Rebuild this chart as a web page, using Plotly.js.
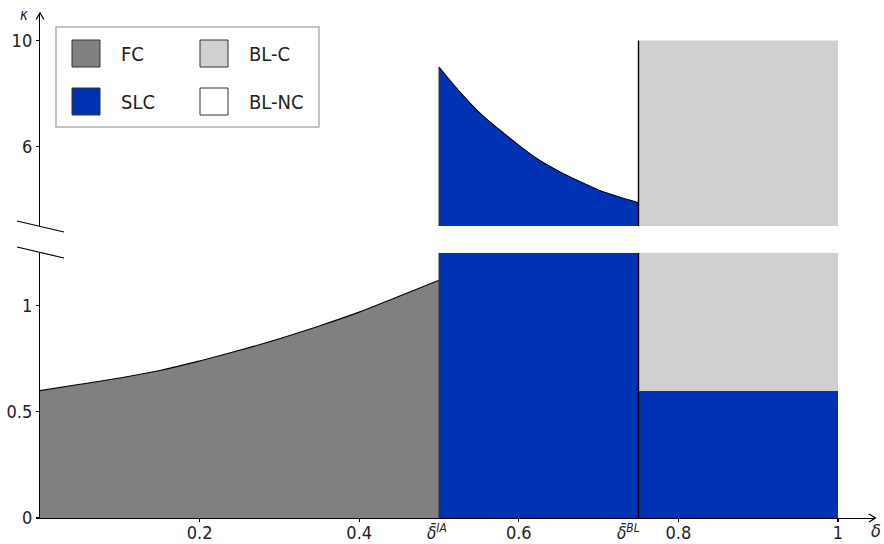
<!DOCTYPE html>
<html>
<head>
<meta charset="utf-8">
<script src="https://cdn.plot.ly/plotly-3.0.1.min.js"></script>
<style>html,body{margin:0;padding:0;background:#fff;}#chart{width:884px;height:544px;}</style>
</head>
<body>
<div id="chart"></div>
<script>
// ---- data ----
const deltaFC  = [0, 0.05, 0.1, 0.15, 0.2, 0.25, 0.3, 0.35, 0.4, 0.45, 0.5];
const kappaFC  = [0.60, 0.63, 0.66, 0.695, 0.74, 0.79, 0.845, 0.905, 0.97, 1.045, 1.12];
const deltaSLC = [0.5, 0.525, 0.55, 0.575, 0.6, 0.625, 0.65, 0.675, 0.7, 0.725, 0.75];
const kappaSLC = [9.0, 8.1, 7.3, 6.65, 6.05, 5.5, 5.07, 4.7, 4.36, 4.1, 3.88];
const deltaIA = 0.5;
const deltaBL = 0.75;
const deltaMax = 1;
const kappaSLCinBL = 0.6;   // SLC / BL-C boundary for delta > deltaBL
const kappaBLCtop = 10;     // top of BL-C region
const lowerTop = 1.25;      // axis break: top of lower panel
const upperBottom = 3;      // axis break: bottom of upper panel
const upperTop = 11;
const xTickVals = [0.2, 0.4, 0.6, 0.8, 1];
const xTickText = ['0.2', '0.4', '0.6', '0.8', '1'];
const yLowTickVals = [0, 0.5, 1];
const yLowTickText = ['0', '0.5', '1'];
const yUpTickVals = [6, 10];
const yUpTickText = ['6', '10'];
const legendNames = ['FC', 'SLC', 'BL-C', 'BL-NC'];

// ---- styles ----
const C_FC = '#808080', C_SLC = '#0032B4', C_BLC = '#D0D0D0', C_BLNC = '#FFFFFF';
const FONT = '"DejaVu Sans Condensed", "DejaVu Sans", sans-serif';
const TXT = '#222222';
const xMax = 835 / 798;

// geometry helpers (plot area: left 40, right 875, top 14, bottom 518)
const PL = 40, PR = 875, PT = 14, PB = 518;
const xp = px => (px - PL) / (PR - PL);
const yp = py => (PB - py) / (PB - PT);
const P = (px, py) => xp(px).toFixed(5) + ',' + yp(py).toFixed(5);

function rect(xs, ys, color, yaxis, name) {
  return {x: xs, y: ys, type: 'scatter', mode: 'lines', fill: 'toself', fillcolor: color,
          line: {width: 0, color: color}, yaxis: yaxis, name: name, hoverinfo: 'skip'};
}
function edge(xs, ys, yaxis, w, c) {
  return {x: xs, y: ys, type: 'scatter', mode: 'lines', line: {width: w, color: c},
          yaxis: yaxis, hoverinfo: 'skip'};
}

const traces = [
  // lower panel
  rect([deltaIA, deltaBL, deltaBL, deltaIA], [0, 0, lowerTop, lowerTop], C_SLC, 'y', 'SLC'),
  rect([deltaBL, deltaMax, deltaMax, deltaBL], [0, 0, kappaSLCinBL, kappaSLCinBL], C_SLC, 'y', 'SLC'),
  rect([deltaBL, deltaMax, deltaMax, deltaBL], [kappaSLCinBL, kappaSLCinBL, lowerTop, lowerTop], C_BLC, 'y', 'BL-C'),
  {x: deltaFC, y: kappaFC, type: 'scatter', mode: 'lines', fill: 'tozeroy', fillcolor: C_FC,
   line: {width: 1.1, color: '#000', shape: 'spline', smoothing: 1}, yaxis: 'y', name: 'FC', hoverinfo: 'skip'},
  // upper panel
  rect([deltaBL, deltaMax, deltaMax, deltaBL], [upperBottom, upperBottom, kappaBLCtop, kappaBLCtop], C_BLC, 'y2', 'BL-C'),
  {x: deltaSLC, y: kappaSLC, type: 'scatter', mode: 'lines', fill: 'tozeroy', fillcolor: C_SLC,
   line: {width: 1.1, color: '#000', shape: 'spline', smoothing: 1}, yaxis: 'y2', name: 'SLC', hoverinfo: 'skip'},
  // vertical edges
  edge([deltaIA, deltaIA], [0, lowerTop], 'y', 1, '#333'),
  edge([deltaIA, deltaIA], [upperBottom, kappaSLC[0]], 'y2', 1, '#333'),
  edge([deltaBL, deltaBL], [0, lowerTop], 'y', 1.4, '#000'),
  edge([deltaBL, deltaBL], [upperBottom, kappaBLCtop], 'y2', 1.4, '#000')
];

const shapes = [
  // axis arrow heads (paper coordinates, not clipped)
  {type: 'path', xref: 'paper', yref: 'paper', path: 'M' + P(869, 514) + ' L' + P(875.5, 518) + ' L' + P(869, 522),
   line: {color: '#000', width: 1.2}},
  {type: 'path', xref: 'paper', yref: 'paper', path: 'M' + P(36, 19.5) + ' L' + P(40, 13) + ' L' + P(44, 19.5),
   line: {color: '#000', width: 1.2}},
  {type: 'line', xref: 'paper', yref: 'paper', x0: xp(40), x1: xp(40), y0: yp(14), y1: yp(13.2),
   line: {color: '#000', width: 1.2}},
  // break marks
  {type: 'line', xref: 'paper', yref: 'paper', x0: xp(17), y0: yp(221), x1: xp(64), y1: yp(232),
   line: {color: '#000', width: 1.2}},
  {type: 'line', xref: 'paper', yref: 'paper', x0: xp(17), y0: yp(247), x1: xp(64), y1: yp(258),
   line: {color: '#000', width: 1.2}},
  // legend box
  {type: 'rect', xref: 'paper', yref: 'paper', x0: xp(56), x1: xp(319), y0: yp(127), y1: yp(27),
   fillcolor: '#FFFFFF', line: {color: '#B0B0B0', width: 1.5}}
];
const swatchColors = [C_FC, C_SLC, C_BLC, C_BLNC];
const swX = [72, 72, 200, 200], swY = [40, 88, 40, 88];
const annotations = [];
for (let i = 0; i < 4; i++) {
  shapes.push({type: 'rect', xref: 'paper', yref: 'paper', x0: xp(swX[i]), x1: xp(swX[i] + 28),
               y0: yp(swY[i] + 27), y1: yp(swY[i]), fillcolor: swatchColors[i], line: {color: '#333', width: 1}});
  annotations.push({xref: 'paper', yref: 'paper', x: xp(swX[i] + 47), y: yp(swY[i] + 13.5),
                    xanchor: 'left', yanchor: 'middle', showarrow: false, text: legendNames[i],
                    font: {family: FONT, size: 20, color: TXT}});
}
annotations.push(
  {xref: 'x', yref: 'y', x: deltaIA, y: 0, xanchor: 'center', yanchor: 'top', yshift: -1, xshift: -2, showarrow: false,
   text: '<i>δ̄</i><sup><i>IA</i></sup>', font: {family: FONT, size: 17, color: TXT}},
  {xref: 'x', yref: 'y', x: deltaBL, y: 0, xanchor: 'center', yanchor: 'top', yshift: -1, xshift: -10, showarrow: false,
   text: '<i>δ̄</i><sup><i>BL</i></sup>', font: {family: FONT, size: 17, color: TXT}},
  {xref: 'paper', yref: 'paper', x: xp(876), y: yp(530), xanchor: 'center', yanchor: 'middle', showarrow: false,
   text: '<i>δ</i>', font: {family: FONT, size: 18, color: TXT}},
  {xref: 'paper', yref: 'paper', x: xp(24), y: yp(15), xanchor: 'center', yanchor: 'middle', showarrow: false,
   text: '<i>κ</i>', font: {family: FONT, size: 15, color: TXT}}
);

const axisCommon = {showgrid: false, zeroline: false, showline: true, linecolor: '#000', linewidth: 1.2,
  ticks: 'outside', ticklen: 3, tickwidth: 1.2, tickcolor: '#000', tickmode: 'array',
  tickfont: {family: FONT, size: 18, color: TXT}, fixedrange: true};

const layout = {
  width: 884, height: 544,
  margin: {l: PL, r: 884 - PR, t: PT, b: 544 - PB},
  paper_bgcolor: '#FFFFFF', plot_bgcolor: '#FFFFFF',
  showlegend: false,
  xaxis: Object.assign({}, axisCommon, {range: [0, xMax], domain: [0, 1], anchor: 'y',
    tickvals: xTickVals, ticktext: xTickText, ticklabelstandoff: -5}),
  yaxis: Object.assign({}, axisCommon, {range: [0, lowerTop], domain: [0, yp(252.7)], anchor: 'x',
    tickvals: yLowTickVals, ticktext: yLowTickText}),
  yaxis2: Object.assign({}, axisCommon, {range: [upperBottom, upperTop], domain: [yp(226), 1], anchor: 'x',
    tickvals: yUpTickVals, ticktext: yUpTickText}),
  shapes: shapes,
  annotations: annotations
};

Plotly.newPlot('chart', traces, layout, {staticPlot: true, displayModeBar: false});
</script>
</body>
</html>
